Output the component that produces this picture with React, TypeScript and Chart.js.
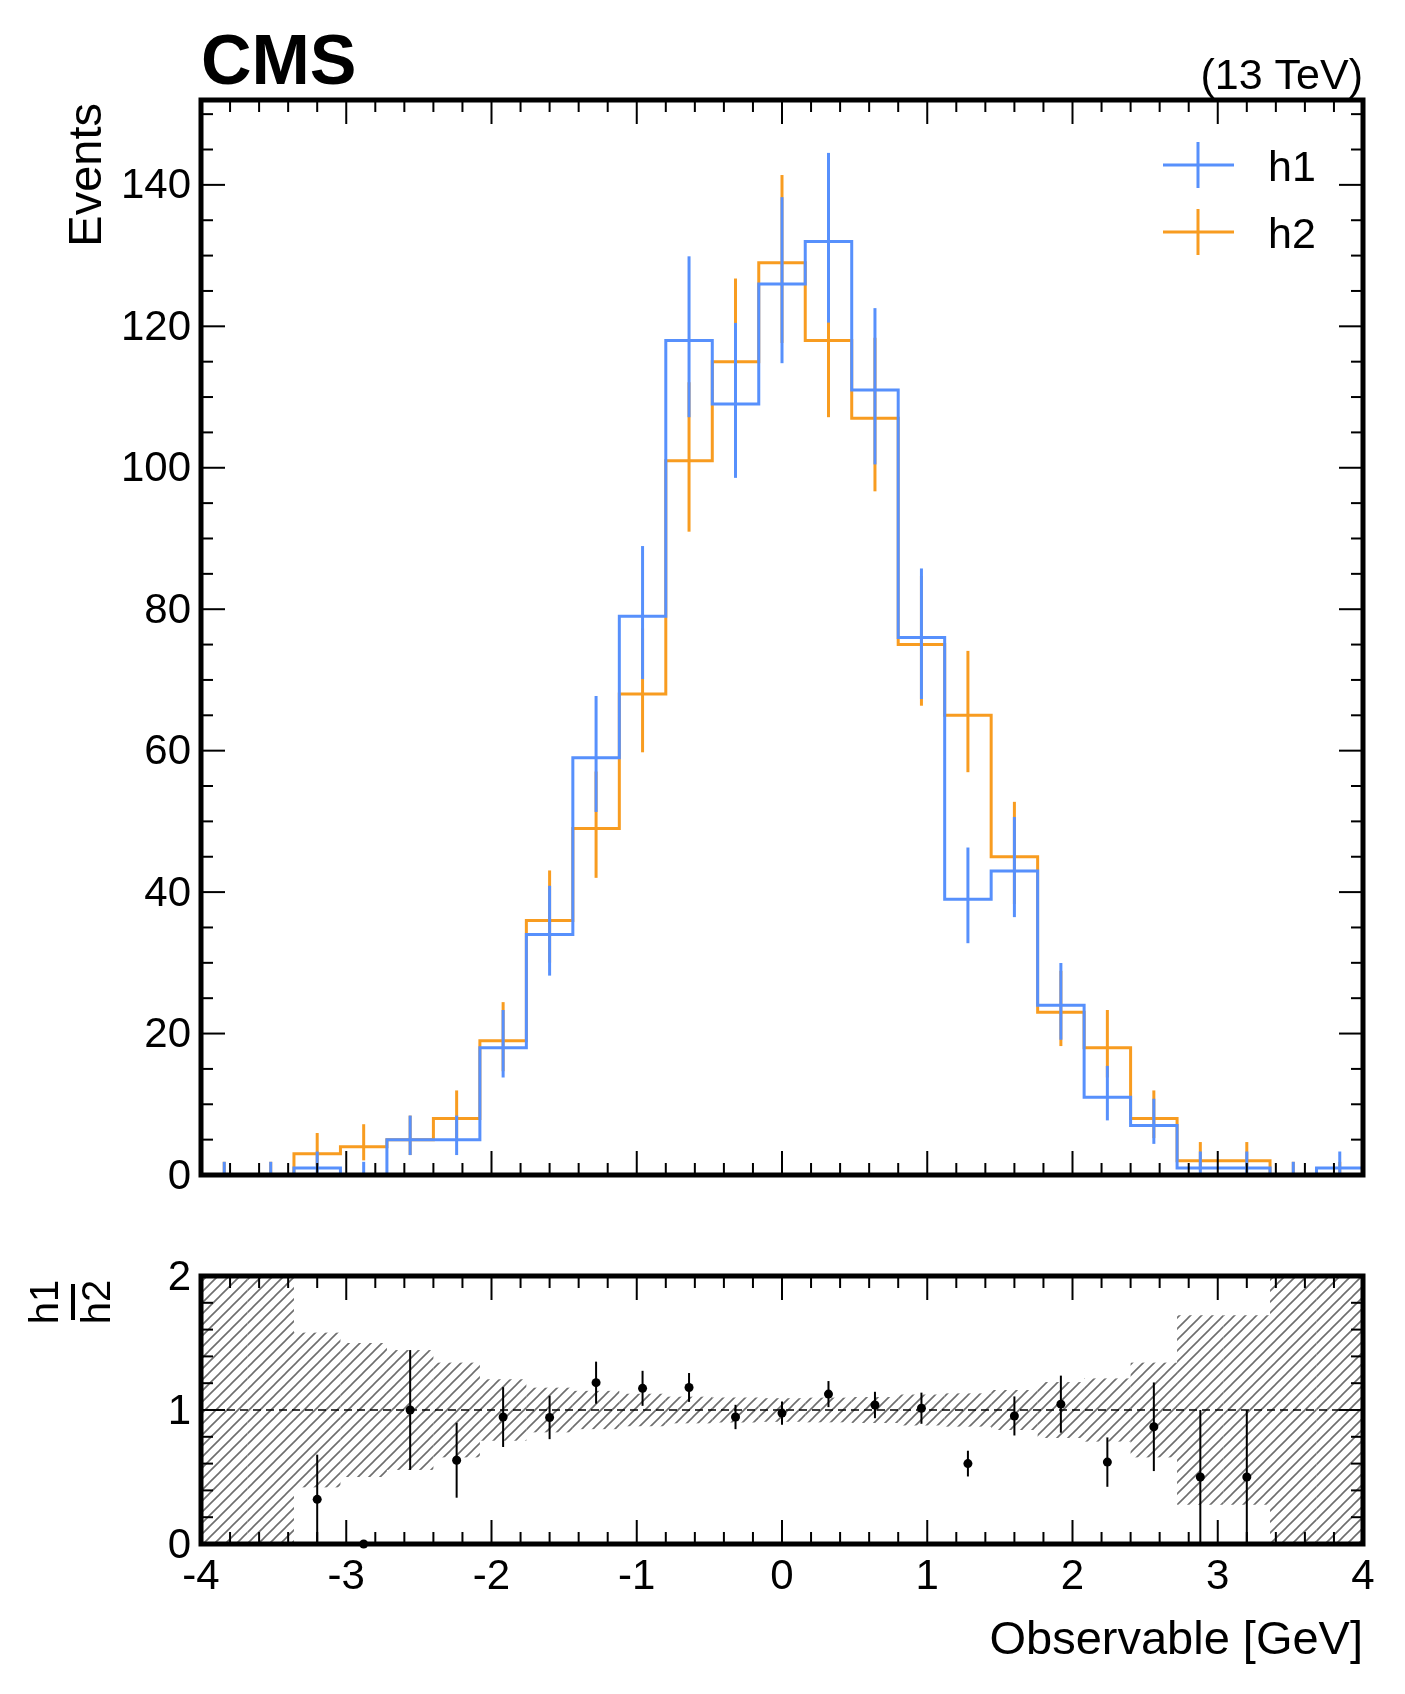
import React, { useEffect, useRef } from "react";
import { Chart, registerables } from "chart.js";
Chart.register(...registerables);

const binEdges = [-4, -3.68, -3.36, -3.04, -2.72, -2.4, -2.08, -1.76, -1.44, -1.12, -0.8, -0.48, -0.16, 0.16, 0.48, 0.8, 1.12, 1.44, 1.76, 2.08, 2.4, 2.72, 3.04, 3.36, 3.68, 4];
const h1 = [0, 0, 1, 0, 5, 5, 18, 34, 59, 79, 118, 109, 126, 132, 111, 76, 39, 43, 24, 11, 7, 1, 1, 0, 1];
const h2 = [0, 0, 3, 4, 5, 8, 19, 36, 49, 68, 101, 115, 129, 118, 107, 75, 65, 45, 23, 18, 8, 2, 2, 0, 0];
const xTickLabels = ["-4", "-3", "-2", "-1", "0", "1", "2", "3", "4"];
const yTickLabels = ["0", "20", "40", "60", "80", "100", "120", "140"];
const ratioTickLabels = ["0", "1", "2"];
const BLUE = "#5790fc";
const ORANGE = "#f89c20";
const FONT = "'Liberation Sans', Arial, sans-serif";

const centers = h1.map((_, i) => (binEdges[i] + binEdges[i + 1]) / 2);
const stepData = (h: number[]) => [...h.map((v, i) => ({ x: binEdges[i], y: v })), { x: binEdges[binEdges.length - 1], y: h[h.length - 1] }];
const errUp = (n: number) => n + 1 + Math.sqrt(n + 0.75);
const errLo = (n: number) => (n > 0 ? n - Math.sqrt(n - 0.25) : 0);

function drawFrame(chart: any, yMax: number, yMajor: number, yMinor: number, xLabels: boolean, yLabels: string[]) {
  const { ctx, chartArea: a, scales } = chart;
  const xs = scales.x, ys = scales.y;
  ctx.save();
  ctx.strokeStyle = "#000";
  ctx.lineWidth = 2;
  const tick = (x1: number, y1: number, x2: number, y2: number) => { ctx.beginPath(); ctx.moveTo(x1, y1); ctx.lineTo(x2, y2); ctx.stroke(); };
  for (let k = -20; k <= 20; k++) {
    const v = k * 0.2;
    const x = xs.getPixelForValue(v);
    const len = k % 5 === 0 ? 24 : 12;
    tick(x, a.bottom, x, a.bottom - len);
    tick(x, a.top, x, a.top + len);
  }
  for (let v = 0; v <= yMax + 1e-9; v += yMinor) {
    const y = ys.getPixelForValue(v);
    const isMaj = Math.abs(v / yMajor - Math.round(v / yMajor)) < 1e-6;
    const len = isMaj ? 24 : 12;
    tick(a.left, y, a.left + len, y);
    tick(a.right, y, a.right - len, y);
  }
  ctx.lineWidth = 5;
  ctx.strokeRect(a.left, a.top, a.right - a.left, a.bottom - a.top);
  ctx.fillStyle = "#000";
  ctx.font = `42px ${FONT}`;
  ctx.textAlign = "right";
  ctx.textBaseline = "middle";
  yLabels.forEach((t) => ctx.fillText(t, a.left - 10, ys.getPixelForValue(parseFloat(t)) + 2));
  if (xLabels) {
    ctx.textAlign = "center";
    ctx.textBaseline = "top";
    xTickLabels.forEach((t) => ctx.fillText(t, xs.getPixelForValue(parseFloat(t)), a.bottom + 12));
  }
  ctx.restore();
}

export default function App() {
  const c1 = useRef<HTMLCanvasElement>(null);
  const c2 = useRef<HTMLCanvasElement>(null);
  useEffect(() => {
    document.body.style.margin = "0";
    const mainPlugin = {
      id: "mainp",
      afterDatasetDraw(chart: any, args: any) {
        const { ctx, scales } = chart;
        const h = args.index === 0 ? h1 : h2;
        ctx.save();
        ctx.strokeStyle = args.index === 0 ? BLUE : ORANGE;
        ctx.lineWidth = 3;
        ctx.beginPath();
        ctx.rect(chart.chartArea.left, chart.chartArea.top, chart.chartArea.right - chart.chartArea.left, chart.chartArea.bottom - chart.chartArea.top);
        ctx.clip();
        h.forEach((n, i) => {
          const x = scales.x.getPixelForValue(centers[i]);
          ctx.beginPath();
          ctx.moveTo(x, scales.y.getPixelForValue(errLo(n)));
          ctx.lineTo(x, scales.y.getPixelForValue(errUp(n)));
          ctx.stroke();
        });
        ctx.restore();
      },
      afterDraw(chart: any) {
        const { ctx } = chart;
        drawFrame(chart, 150, 20, 5, false, yTickLabels);
        ctx.save();
        ctx.fillStyle = "#000";
        ctx.font = `bold 70px ${FONT}`;
        ctx.textAlign = "left";
        ctx.textBaseline = "alphabetic";
        ctx.fillText("CMS", 201, 84);
        ctx.font = `43px ${FONT}`;
        ctx.textAlign = "right";
        ctx.fillText("(13 TeV)", 1363, 89);
        ctx.save();
        ctx.translate(101, 103);
        ctx.rotate(-Math.PI / 2);
        ctx.font = `47px ${FONT}`;
        ctx.textAlign = "right";
        ctx.fillText("Events", 0, 0);
        ctx.restore();
        [[BLUE, "h1", 165], [ORANGE, "h2", 232]].forEach(([col, lab, y]: any) => {
          ctx.strokeStyle = col;
          ctx.lineWidth = 3;
          ctx.beginPath();
          ctx.moveTo(1163, y); ctx.lineTo(1234, y);
          ctx.moveTo(1198, y - 23); ctx.lineTo(1198, y + 23);
          ctx.stroke();
          ctx.fillStyle = "#000";
          ctx.font = `43px ${FONT}`;
          ctx.textAlign = "left";
          ctx.fillText(lab, 1268, y + 16);
        });
        ctx.restore();
      },
    };
    const ch1 = new Chart(c1.current!, {
      type: "line",
      data: {
        datasets: [
          { data: stepData(h1), stepped: "before", borderColor: BLUE, borderWidth: 3, pointRadius: 0, fill: false },
          { data: stepData(h2), stepped: "before", borderColor: ORANGE, borderWidth: 3, pointRadius: 0, fill: false },
        ],
      },
      options: {
        animation: false, responsive: false, devicePixelRatio: 1,
        layout: { padding: { left: 201, right: 42, top: 100, bottom: 55 } },
        plugins: { legend: { display: false }, tooltip: { enabled: false } },
        scales: {
          x: { type: "linear", min: -4, max: 4, display: false },
          y: { min: 0, max: 152, display: false },
        },
      } as any,
      plugins: [mainPlugin],
    });

    const ratio = h1.map((v, i) => (h2[i] > 0 ? v / h2[i] : null));
    const ratioPts = ratio.map((r, i) => (r === null ? null : { x: centers[i], y: r })).filter((p) => p) as any[];
    const ratioPlugin = {
      id: "ratiop",
      beforeDatasetsDraw(chart: any) {
        const { ctx, scales, chartArea: a } = chart;
        const pc = document.createElement("canvas");
        pc.width = 11; pc.height = 11;
        const p = pc.getContext("2d")!;
        p.strokeStyle = "#6e6e6e"; p.lineWidth = 1.6;
        p.beginPath();
        p.moveTo(-1, 12); p.lineTo(12, -1);
        p.moveTo(-1, 1); p.lineTo(1, -1);
        p.moveTo(10, 12); p.lineTo(12, 10);
        p.stroke();
        ctx.save();
        ctx.fillStyle = ctx.createPattern(pc, "repeat");
        h2.forEach((n, i) => {
          const e = n > 0 ? 1 / Math.sqrt(n) : 10;
          const lo = Math.max(0, 1 - e), hi = Math.min(2, 1 + e);
          const x0 = scales.x.getPixelForValue(binEdges[i]), x1 = scales.x.getPixelForValue(binEdges[i + 1]);
          const y0 = scales.y.getPixelForValue(hi), y1 = scales.y.getPixelForValue(lo);
          ctx.fillRect(x0, y0, x1 - x0, y1 - y0);
        });
        ctx.strokeStyle = "#000"; ctx.lineWidth = 1.5; ctx.setLineDash([8, 5]);
        const y1 = scales.y.getPixelForValue(1);
        ctx.beginPath(); ctx.moveTo(a.left, y1); ctx.lineTo(a.right, y1); ctx.stroke();
        ctx.setLineDash([]);
        ctx.lineWidth = 2;
        ratio.forEach((r, i) => {
          if (r === null || h1[i] === 0) return;
          const e = r / Math.sqrt(h1[i]);
          const x = scales.x.getPixelForValue(centers[i]);
          ctx.beginPath();
          ctx.moveTo(x, scales.y.getPixelForValue(Math.max(0, r - e)));
          ctx.lineTo(x, scales.y.getPixelForValue(Math.min(2, r + e)));
          ctx.stroke();
        });
        ctx.restore();
      },
      afterDraw(chart: any) {
        const { ctx } = chart;
        drawFrame(chart, 2, 1, 0.2, true, ratioTickLabels);
        ctx.save();
        ctx.fillStyle = "#000";
        ctx.font = `47px ${FONT}`;
        ctx.textAlign = "right";
        ctx.textBaseline = "alphabetic";
        ctx.fillText("Observable [GeV]", 1363, 424);
        ctx.translate(0, 72);
        ctx.rotate(-Math.PI / 2);
        ctx.font = `40px ${FONT}`;
        ctx.textAlign = "center";
        ctx.fillText("h1", 0, 58);
        ctx.fillText("h2", 0, 110);
        ctx.fillRect(-18, 71, 36, 4);
        ctx.restore();
      },
    };
    const ch2 = new Chart(c2.current!, {
      type: "scatter",
      data: { datasets: [{ data: ratioPts, pointRadius: 4.5, pointBackgroundColor: "#000", pointBorderWidth: 0, clip: false } as any] },
      options: {
        animation: false, responsive: false, devicePixelRatio: 1,
        layout: { padding: { left: 201, right: 42, top: 46, bottom: 150 } },
        plugins: { legend: { display: false }, tooltip: { enabled: false } },
        scales: {
          x: { type: "linear", min: -4, max: 4, display: false },
          y: { min: 0, max: 2, display: false },
        },
      } as any,
      plugins: [ratioPlugin],
    });
    return () => { ch1.destroy(); ch2.destroy(); };
  }, []);
  return (
    <div style={{ position: "relative", width: 1405, height: 1694, background: "#fff" }}>
      <canvas ref={c1} width={1405} height={1230} style={{ position: "absolute", left: 0, top: 0 }} />
      <canvas ref={c2} width={1405} height={464} style={{ position: "absolute", left: 0, top: 1230 }} />
    </div>
  );
}
